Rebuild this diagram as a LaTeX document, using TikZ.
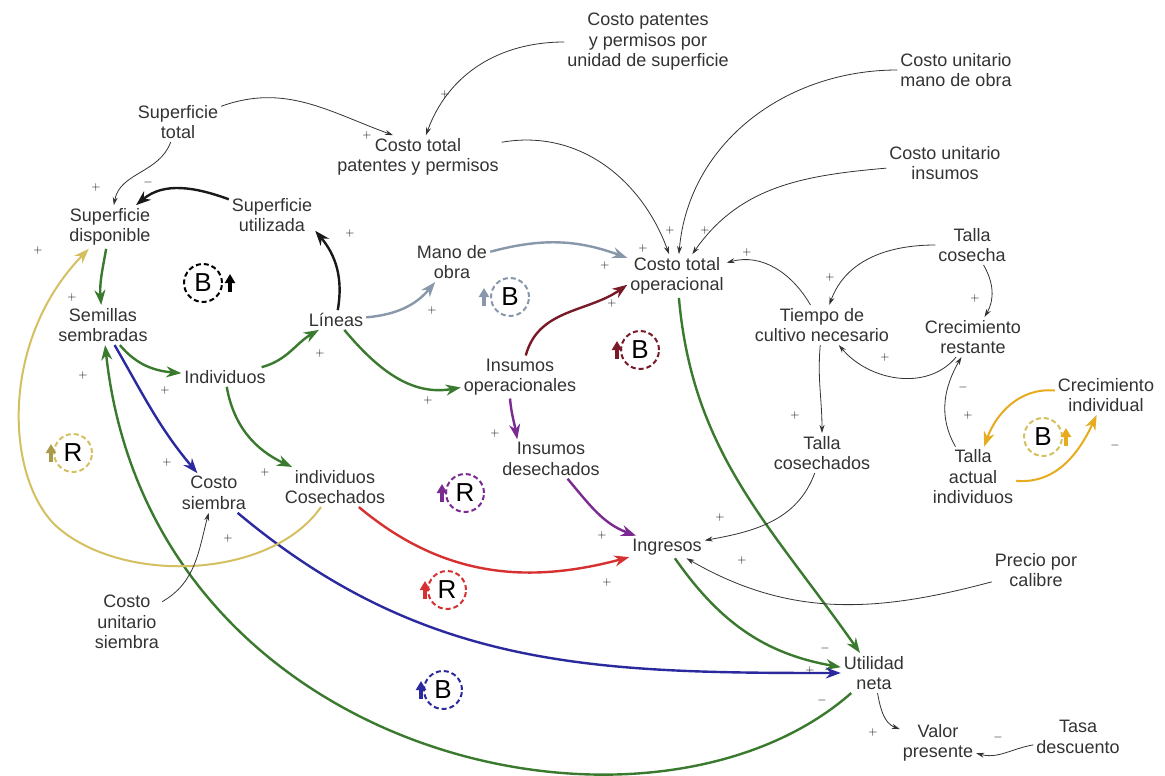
\documentclass[tikz,border=0pt]{standalone}
\usepackage{fontspec}
\setmainfont{Liberation Sans}
\usepackage{xcolor}
\usetikzlibrary{arrows.meta}

\definecolor{cgreen}{RGB}{58,122,46}
\definecolor{cblue}{RGB}{42,42,158}
\definecolor{cgold}{RGB}{212,192,96}
\definecolor{corange}{RGB}{230,172,30}
\definecolor{cgray}{RGB}{136,152,170}
\definecolor{cdred}{RGB}{120,26,40}
\definecolor{cpurple}{RGB}{122,42,144}
\definecolor{cred}{RGB}{214,48,48}

\begin{document}
\begin{tikzpicture}[x=1pt,y=1pt]
        \tikzset{var/.style={align=center, inner sep=3pt, text=black!80, font=\fontsize{18}{20.5}\selectfont}}
        \tikzset{link/.style={-{Stealth[length=8pt,width=5pt]}, black!80, line width=0.8pt}}
        \tikzset{flow/.style={-{Stealth[length=15pt,width=11pt]}, line width=2.4pt}}
        \tikzset{sgn/.style={font=\fontsize{13}{13}\selectfont, text=black, inner sep=0pt}}
        \tikzset{loopmark/.style={circle, line width=2pt, dash pattern=on 5pt off 3pt, minimum size=38pt, inner sep=0pt, font=\fontsize{26}{26}\selectfont}}
        \tikzset{looparr/.style={-{Triangle[length=9pt,width=10pt]}, line width=3.2pt}}

        \fill[white] (0,0) rectangle (1165,-776);
        \useasboundingbox (0,0) rectangle (1165,-776);

        % variables
        \node [var] (suptot) at (178,-122) {Superficie\\total};
        \node [var] (supdisp) at (110,-227) {Superficie\\disponible};
        \node [var] (sutil) at (272,-215) {Superficie\\utilizada};
        \node [var] (sem) at (103,-325) {Semillas\\sembradas};
        \node [var] (lin) at (336,-320) {Líneas};
        \node [var] (ind) at (225,-377) {Individuos};
        \node [var] (csi) at (214,-493) {Costo\\siembra};
        \node [var] (ico) at (335,-487) {individuos\\Cosechados};
        \node [var] (cus) at (127,-622) {Costo\\unitario\\siembra};
        \node [var] (cpu) at (648,-42) {Costo patentes\\y permisos por\\unidad de superficie};
        \node [var] (cttpat) at (418,-157) {Costo total\\patentes y permisos};
        \node [var] (mdo) at (452,-262) {Mano de\\obra};
        \node [var] (cto) at (677,-276) {Costo total\\operacional};
        \node [var] (cum) at (956,-70) {Costo unitario\\mano de obra};
        \node [var] (cui) at (945,-163) {Costo unitario\\insumos};
        \node [var] (tcs) at (972,-245) {Talla\\cosecha};
        \node [var] (tcn) at (822,-325) {Tiempo de\\cultivo necesario};
        \node [var] (crr) at (973,-337) {Crecimiento\\restante};
        \node [var] (ino) at (520,-377) {Insumos\\operacionales};
        \node [var] (ide) at (551,-459) {Insumos\\desechados};
        \node [var] (tch) at (822,-453) {Talla\\cosechados};
        \node [var] (tai) at (973,-477) {Talla\\actual\\individuos};
        \node [var] (cin) at (1106,-395) {Crecimiento\\individual};
        \node [var] (ing) at (667,-547) {Ingresos};
        \node [var] (ppc) at (1036,-570) {Precio por\\calibre};
        \node [var] (utn) at (874,-673) {Utilidad\\neta};
        \node [var] (vpr) at (938,-743) {Valor\\presente};
        \node [var] (tde) at (1078,-737) {Tasa\\descuento};

        % thick loops
        \draw [flow, black!90] (sutil) to[out=160,in=40] (supdisp);
        \draw [flow, black!90] (lin) to[out=80,in=-50] (sutil.-20);
        \draw [flow, cgreen] (supdisp) to[out=-100,in=95] (sem);
        \draw [flow, cgreen] (sem) to[out=-50,in=175] (ind);
        \draw [flow, cgreen] (ind) to[out=15,in=210] (lin);
        \draw [flow, cgreen] (ind) to[out=-80,in=155] (ico);
        \draw [flow, cgreen] (lin) to[out=-50,in=190] (ino);
        \draw [flow, cgreen] (cto) to[out=-85,in=125] (utn);
        \draw [flow, cgreen] (ing) to[out=-55,in=170] (utn);
        \draw [flow, cgreen] (utn) .. controls (650,-870) and (150,-760) .. (sem);
        \draw [flow, cblue] (sem) to[out=-60,in=130] (csi);
        \draw [flow, cblue] (csi) to[out=-40,in=180] (utn);
        \draw [flow, cgold, line width=2pt] (ico) .. controls (270,-580) and (120,-585) .. (55,-525) .. controls (5,-475) and (0,-340) .. (supdisp);
        \draw [flow, cgray] (lin) to[out=5,in=-130] (mdo);
        \draw [flow, cgray] (mdo) to[out=15,in=160] (cto);
        \draw [flow, cdred] (ino) to[out=75,in=215] (cto.190);
        \draw [flow, cpurple] ([xshift=-10]ino.south) to[out=-85,in=100] ([xshift=18]ide.north west);
        \draw [flow, cpurple] (ide) to[out=-50,in=160] (ing);
        \draw [flow, cred] (ico) to[out=-40,in=195] (ing);
        \draw [flow, corange, line width=2pt] (cin) to[out=175,in=70] (tai);
        \draw [flow, corange, line width=2pt] (tai) to[out=-5,in=-115] (cin);

        % thin links
        \draw [link] (suptot) to[out=250,in=80] (supdisp);
        \draw [link] (suptot) to[out=20,in=160] ([xshift=-25]cttpat.north);
        \draw [link] (cpu) to[out=180,in=70] (cttpat);
        \draw [link] (cttpat) to[out=10,in=110] (cto);
        \draw [link] (cum) to[out=180,in=85] (cto);
        \draw [link] (cui) to[out=185,in=55] (cto);
        \draw [link] (tcn) to[out=120,in=15] (cto);
        \draw [link] (tcs) to[out=180,in=70] (tcn);
        \draw [link] (tcs) to[out=-60,in=60] (crr);
        \draw [link] (crr) to[out=230,in=-50] (tcn);
        \draw [link] (tai) to[out=120,in=240] (crr);
        \draw [link] (tcn) to[out=265,in=90] (tch);
        \draw [link] (tch) to[out=250,in=10] (ing);
        \draw [link] (ppc) to[out=195,in=-30] (ing);
        \draw [link] (cus) to[out=30,in=255] (csi);
        \draw [link] (utn) to[out=-80,in=160] (vpr);
        \draw [link] (tde) to[out=190,in=-15] (vpr);

        % loop markers
        \node [loopmark, draw=black] (lpb1) at (203,-283) {B};
        \draw [looparr, black] ([shift={(27,-9)}]lpb1.center) -- ++(0,18);
        \node [loopmark, draw=cgray] (lpb2) at (510,-297) {B};
        \draw [looparr, cgray] ([shift={(-26,-9)}]lpb2.center) -- ++(0,18);
        \node [loopmark, draw=cdred] (lpb3) at (640,-350) {B};
        \draw [looparr, cdred] ([shift={(-23,-9)}]lpb3.center) -- ++(0,18);
        \node [loopmark, draw=cgold] (lpr1) at (73,-453) {R};
        \draw [looparr, cgold!80!black] ([shift={(-22,-9)}]lpr1.center) -- ++(0,18);
        \node [loopmark, draw=cpurple] (lpr2) at (465,-493) {R};
        \draw [looparr, cpurple] ([shift={(-23,-9)}]lpr2.center) -- ++(0,18);
        \node [loopmark, draw=cred] (lpr3) at (447,-590) {R};
        \draw [looparr, cred] ([shift={(-22,-9)}]lpr3.center) -- ++(0,18);
        \node [loopmark, draw=cblue] (lpb4) at (443,-690) {B};
        \draw [looparr, cblue] ([shift={(-22,-9)}]lpb4.center) -- ++(0,18);
        \node [loopmark, draw=cgold] (lpb5) at (1043,-437) {B};
        \draw [looparr, corange] ([shift={(23,-9)}]lpb5.center) -- ++(0,18);

        % polarities
        \foreach \x/\y/\s [count=\i] in {96/187/+, 148/182/-, 38/250/+, 72/297/+, 350/233/+,
                445/95/+, 367/135/+, 670/230/+, 705/230/+, 643/248/+, 605/265/+, 747/252/+,
                432/310/+, 320/353/+, 428/400/+, 612/303/+, 83/375/+, 165/390/+, 167/462/+,
                265/472/+, 228/538/+, 495/433/+, 602/535/+, 607/582/+, 720/517/+, 742/560/+,
                830/277/+, 975/298/+, 885/357/+, 795/415/+, 963/387/-, 968/415/+, 1115/445/-,
                825/648/-, 810/670/+, 822/700/-, 873/732/+, 998/737/-}
            \node [sgn] (pol\i) at (\x,-\y) {$\s$};
\end{tikzpicture}
\end{document}
